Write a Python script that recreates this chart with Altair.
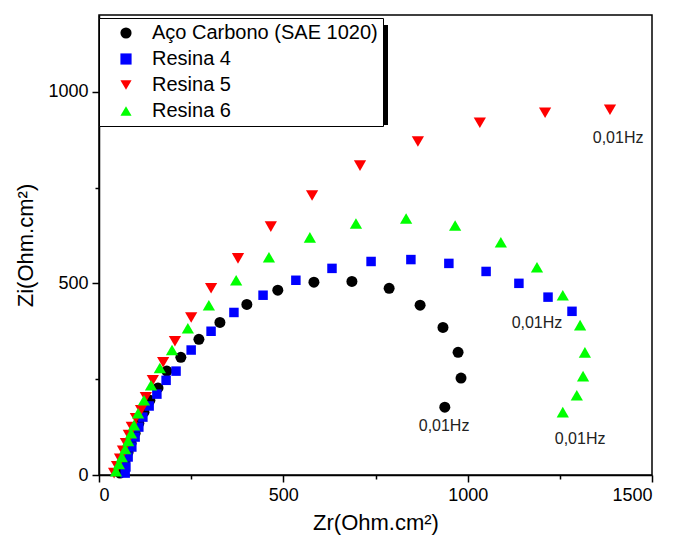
import altair as alt
import pandas as pd

series_names = ["Aço Carbono (SAE 1020)", "Resina 4", "Resina 5", "Resina 6"]
series_colors = ["#000000", "#0000ff", "#ff0000", "#00ff00"]
series_shapes = ["circle", "square", "triangle-down", "triangle-up"]
series_sizes = [121, 90, 150, 150]

aco_zr = [57, 62, 71, 79, 87, 98, 108, 122, 138, 160, 184, 222, 271, 328, 401, 485, 583, 686, 787, 871, 933, 974, 982, 938]
aco_zi = [5, 21, 39, 60, 83, 109, 135, 164, 195, 227, 271, 307, 354, 398, 445, 482, 503, 505, 487, 443, 385, 320, 253, 177]

r4_zr = [71, 73, 79, 89, 98, 108, 119, 136, 157, 182, 209, 250, 304, 366, 445, 534, 632, 738, 846, 949, 1050, 1139, 1218, 1283]
r4_zi = [5, 21, 47, 73, 99, 125, 151, 180, 211, 247, 271, 326, 375, 424, 469, 508, 539, 557, 562, 552, 531, 500, 464, 427]

r5_zr = [41, 49, 57, 65, 73, 81, 89, 100, 114, 127, 146, 174, 206, 250, 304, 377, 466, 578, 708, 865, 1033, 1210, 1386]
r5_zi = [5, 23, 42, 63, 83, 104, 125, 148, 169, 203, 247, 294, 349, 411, 487, 565, 648, 729, 807, 870, 919, 945, 953]

r6_zr = [46, 54, 62, 71, 79, 87, 95, 106, 122, 141, 165, 198, 241, 298, 372, 461, 572, 697, 833, 966, 1090, 1188, 1258, 1305, 1318, 1313, 1296, 1258]
r6_zi = [10, 29, 47, 68, 89, 109, 130, 161, 195, 234, 279, 326, 383, 443, 508, 568, 620, 656, 669, 651, 607, 542, 469, 391, 320, 258, 208, 164]

note_zr = [936, 1188, 1408, 1305]
note_zi = [128, 396, 880, 94]
note_text = ["0,01Hz", "0,01Hz", "0,01Hz", "0,01Hz"]

rows = []
for name, sz, xs, ys in zip(series_names, series_sizes, [aco_zr, r4_zr, r5_zr, r6_zr], [aco_zi, r4_zi, r5_zi, r6_zi]):
    for a, b in zip(xs, ys):
        rows.append({"serie": name, "zr": a, "zi": b, "sz": sz})
df = pd.DataFrame(rows)
notes = pd.DataFrame({"zr": note_zr, "zi": note_zi, "txt": note_text})

FONT = "Liberation Sans"

x_axis = alt.Axis(
    values=[0, 250, 500, 750, 1000, 1250, 1500],
    labelExpr="datum.value % 500 === 0 ? datum.label : ''",
    tickSize={"condition": {"test": "datum.value % 500 === 0", "value": 7}, "value": 4},
    title="Zr(Ohm.cm²)", titleFontSize=22, titleFont=FONT, titleFontWeight="normal",
    labelFont=FONT, labelFontSize=18, labelPadding=4, titlePadding=8,
    grid=False, domainColor="black", domainWidth=1.5, tickColor="black", tickWidth=1.5,
    labelColor="black", titleColor="black", format="d",
)
y_axis = alt.Axis(
    values=[0, 250, 500, 750, 1000],
    labelExpr="datum.value % 500 === 0 ? datum.label : ''",
    tickSize={"condition": {"test": "datum.value % 500 === 0", "value": 7}, "value": 4},
    title="Zi(Ohm.cm²)", titleFontSize=22, titleFont=FONT, titleFontWeight="normal",
    labelFont=FONT, labelFontSize=18, labelPadding=4, titlePadding=10,
    grid=False, domainColor="black", domainWidth=1.5, tickColor="black", tickWidth=1.5,
    labelColor="black", titleColor="black", format="d",
)

xs = alt.X("zr:Q", scale=alt.Scale(domain=[0, 1500], nice=False, zero=False), axis=x_axis)
ys = alt.Y("zi:Q", scale=alt.Scale(domain=[0, 1200], nice=False, zero=False), axis=y_axis)

legend = alt.Legend(
    title=None, orient="none", legendX=0, legendY=3,
    strokeColor="black", fillColor="white", padding=5,
    labelFont=FONT, labelFontSize=20, labelColor="black", labelLimit=400,
    symbolOffset=12, labelOffset=16, rowPadding=6, symbolStrokeWidth=0,
    symbolSize=125,
)

pts = alt.Chart(df).mark_point(filled=True, opacity=1, strokeWidth=0).encode(
    x=xs, y=ys,
    color=alt.Color("serie:N", scale=alt.Scale(domain=series_names, range=series_colors), legend=legend),
    shape=alt.Shape("serie:N", scale=alt.Scale(domain=series_names, range=series_shapes), legend=legend),
    size=alt.Size("sz:Q", scale=None),
)

txt = alt.Chart(notes).mark_text(font=FONT, fontSize=16, color="#222222").encode(
    x=alt.X("zr:Q"), y=alt.Y("zi:Q"), text="txt:N"
)

shadow_right = alt.Chart(notes).mark_rect(color="black").encode(
    x=alt.value(283), x2=alt.value(289), y=alt.value(10), y2=alt.value(110)
)
shadow_bottom = alt.Chart(notes).mark_rect(color="black").encode(
    x=alt.value(6), x2=alt.value(289), y=alt.value(107), y2=alt.value(110)
)

chart = alt.layer(shadow_right, shadow_bottom, pts, txt).properties(
    width=553, height=460,
    autosize=alt.AutoSizeParams(type="none"),
    padding={"left": 99, "top": 15, "right": 21, "bottom": 74},
    background="white",
).configure_view(stroke="black", strokeWidth=1.5)

chart.save("out.html", embed_options={"renderer": "svg", "actions": False})
